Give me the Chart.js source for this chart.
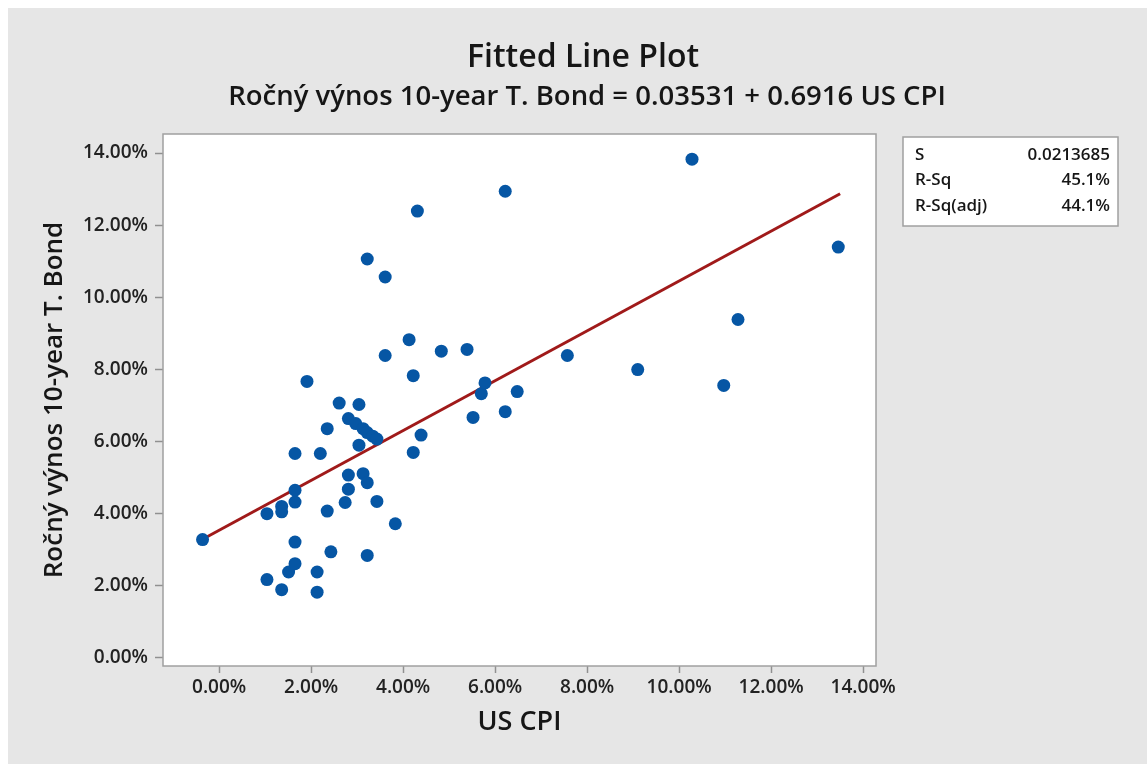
<!DOCTYPE html>
<html>
<head>
<meta charset="utf-8">
<title>Fitted Line Plot</title>
<script src="https://cdn.jsdelivr.net/npm/chart.js@4/dist/chart.umd.min.js"></script>
<style>
  html, body { margin: 0; padding: 0; background: #ffffff; }
  #wrap { width: 1147px; height: 764px; position: relative; }
</style>
</head>
<body>
<div id="wrap"><canvas id="grafica" width="1147" height="764"></canvas></div>
<script>
// US CPI (%) a Ročný výnos 10-year T. Bond (%)
var cpi = [-0.36, 1.04, 1.04, 1.36, 1.36, 1.36, 1.51, 1.65, 1.65, 1.65, 1.65, 1.65, 1.91, 2.13, 2.13,
           2.20, 2.35, 2.35, 2.43, 2.61, 2.74, 2.81, 2.81, 2.81, 2.97, 3.04, 3.04, 3.13, 3.13, 3.22,
           3.22, 3.22, 3.22, 3.34, 3.43, 3.43, 3.61, 3.61, 3.83, 4.13, 4.22, 4.22, 4.31, 4.39, 4.83,
           5.39, 5.52, 5.70, 5.78, 6.22, 6.22, 6.48, 7.57, 9.10, 10.28, 10.97, 11.28, 13.46];
var vynos = [3.27, 3.99, 2.16, 4.19, 4.04, 1.88, 2.37, 2.60, 3.20, 4.31, 4.64, 5.66, 7.66, 2.37, 1.81,
             5.66, 6.35, 4.06, 2.93, 7.06, 4.30, 6.63, 5.06, 4.67, 6.49, 7.02, 5.89, 6.35, 5.10, 6.24,
             4.85, 2.83, 11.06, 6.14, 6.06, 4.33, 10.56, 8.38, 3.71, 8.82, 7.82, 5.69, 12.39, 6.17, 8.50,
             8.55, 6.66, 7.32, 7.62, 12.94, 6.82, 7.38, 8.38, 7.99, 13.83, 7.55, 9.38, 11.39];

// fitted line end points
var fitX = [-0.36, 13.5];
var fitY = [3.28, 12.87];

var xTickValues = [0, 2, 4, 6, 8, 10, 12, 14];
var xTickLabels = ['0.00%', '2.00%', '4.00%', '6.00%', '8.00%', '10.00%', '12.00%', '14.00%'];
var yTickValues = [0, 2, 4, 6, 8, 10, 12, 14];
var yTickLabels = ['0.00%', '2.00%', '4.00%', '6.00%', '8.00%', '10.00%', '12.00%', '14.00%'];

var titulo = 'Fitted Line Plot';
var subtitulo = 'Ročný výnos 10-year T. Bond = 0.03531 + 0.6916 US CPI';
var statNames = ['S', 'R-Sq', 'R-Sq(adj)'];
var statValues = ['0.0213685', '45.1%', '44.1%'];

var puntos = [];
for (var i = 0; i < cpi.length; i++) {
    puntos.push({x: cpi[i], y: vynos[i]});
}
var linea = [];
for (var l = 0; l < fitX.length; l++) {
    linea.push({x: fitX[l], y: fitY[l]});
}

var FONT = "'Open Sans', 'Noto Sans', sans-serif";

var fondo = {
    id: 'fondo',
    beforeDraw: function(chart) {
        var ctx = chart.ctx;
        var a = chart.chartArea;
        ctx.save();
        ctx.fillStyle = '#ffffff';
        ctx.fillRect(0, 0, chart.width, chart.height);
        ctx.fillStyle = '#e6e6e6';
        ctx.fillRect(8, 8, chart.width - 8, chart.height - 8);
        ctx.fillStyle = '#ffffff';
        ctx.fillRect(a.left, a.top, a.right - a.left, a.bottom - a.top);
        ctx.restore();
    },
    afterDraw: function(chart) {
        var ctx = chart.ctx;
        var a = chart.chartArea;
        ctx.save();
        // marco del area
        ctx.strokeStyle = '#a0a0a0';
        ctx.lineWidth = 1.5;
        ctx.strokeRect(a.left, a.top, a.right - a.left, a.bottom - a.top);

        // titulos
        ctx.fillStyle = '#161616';
        ctx.textAlign = 'center';
        ctx.textBaseline = 'alphabetic';
        ctx.font = '600 32px ' + FONT;
        ctx.fillText(titulo, 583, 67);
        ctx.font = '600 27.5px ' + FONT;
        ctx.fillText(subtitulo, 587, 105);

        // cuadro de estadisticas
        var bx = 903, by = 137, bw = 215, bh = 89;
        ctx.fillStyle = '#ffffff';
        ctx.fillRect(bx, by, bw, bh);
        ctx.strokeStyle = '#a0a0a0';
        ctx.lineWidth = 1.5;
        ctx.strokeRect(bx, by, bw, bh);
        ctx.font = '600 17px ' + FONT;
        ctx.fillStyle = '#161616';
        ctx.textBaseline = 'middle';
        for (var r = 0; r < statNames.length; r++) {
            var yy = by + 18 + r * 25.5;
            ctx.textAlign = 'left';
            ctx.fillText(statNames[r], bx + 12, yy);
            ctx.textAlign = 'right';
            ctx.fillText(statValues[r], bx + bw - 8, yy);
        }
        ctx.restore();
    }
};

var ctx = document.getElementById('grafica').getContext('2d');

var grafica = new Chart(ctx, {
    type: 'scatter',
    data: {
        datasets: [{
            label: 'Ročný výnos 10-year T. Bond',
            data: puntos,
            pointRadius: 6.5,
            pointBackgroundColor: '#0656a4',
            pointBorderColor: '#0656a4',
            pointBorderWidth: 0,
            order: 1
        }, {
            type: 'line',
            label: 'Fit',
            data: linea,
            borderColor: '#a01a1a',
            borderWidth: 3,
            pointRadius: 0,
            fill: false,
            order: 2
        }]
    },
    options: {
        responsive: false,
        animation: false,
        layout: {
            padding: {left: 0, right: 271, top: 134, bottom: 0}
        },
        plugins: {
            legend: {display: false},
            tooltip: {enabled: false},
            title: {display: false}
        },
        scales: {
            x: {
                type: 'linear',
                min: -1.22,
                max: 14.28,
                afterBuildTicks: function(axis) {
                    axis.ticks = xTickValues.map(function(v) { return {value: v}; });
                },
                afterFit: function(axis) {
                    axis.height = 98;
                },
                ticks: {
                    callback: function(value, index) { return xTickLabels[index]; },
                    color: '#222222',
                    font: {family: FONT, size: 19, weight: '600'},
                    padding: 3,
                    maxRotation: 0
                },
                grid: {
                    drawOnChartArea: false,
                    drawTicks: true,
                    tickLength: 7,
                    tickColor: '#909090',
                    tickWidth: 1.5
                },
                border: {display: false},
                title: {
                    display: true,
                    text: 'US CPI',
                    color: '#161616',
                    font: {family: FONT, size: 27, weight: '600'},
                    padding: {top: 0, bottom: 25}
                }
            },
            y: {
                type: 'linear',
                min: -0.24,
                max: 14.53,
                afterBuildTicks: function(axis) {
                    axis.ticks = yTickValues.map(function(v) { return {value: v}; });
                },
                afterFit: function(axis) {
                    axis.width = 163;
                },
                ticks: {
                    callback: function(value, index) { return yTickLabels[index]; },
                    color: '#222222',
                    font: {family: FONT, size: 19, weight: '600'},
                    padding: 7
                },
                grid: {
                    drawOnChartArea: false,
                    drawTicks: true,
                    tickLength: 8,
                    tickColor: '#909090',
                    tickWidth: 1.5
                },
                border: {display: false},
                title: {
                    display: true,
                    text: 'Ročný výnos 10-year T. Bond',
                    color: '#161616',
                    font: {family: FONT, size: 26, weight: '600'},
                    padding: {top: 39, bottom: 0}
                }
            }
        }
    },
    plugins: [fondo]
});
</script>
</body>
</html>
